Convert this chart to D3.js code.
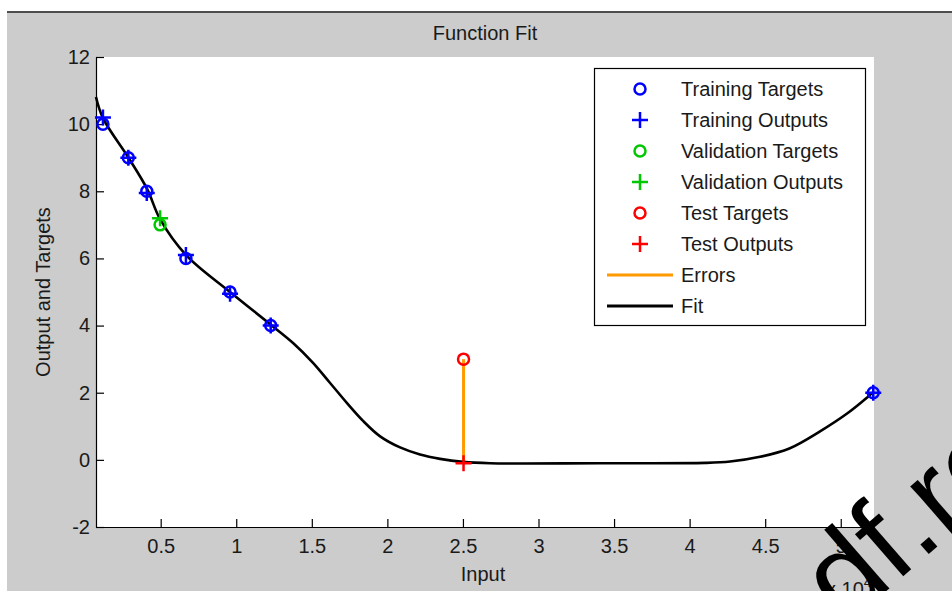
<!DOCTYPE html>
<html>
<head>
<meta charset="utf-8">
<script src="https://cdn.jsdelivr.net/npm/d3@7/dist/d3.min.js"></script>
<style>
  body { margin: 0; background: #fff; }
  text { font-family: "Liberation Sans", Arial, sans-serif; fill: #1a1a1a; }
</style>
</head>
<body>
<div id="chart"></div>
<script>
// values (x in units of 10^4)
var fitX = [0.072, 0.118, 0.284, 0.410, 0.496, 0.668, 0.959, 1.230, 1.376, 1.508, 1.621, 1.733, 1.839,
            1.952, 2.084, 2.216, 2.349, 2.501, 2.680, 3.400, 4.103, 4.268, 4.466, 4.660, 4.863, 5.042, 5.175, 5.215];
var fitY = [10.81, 10.18, 9.02, 8.07, 7.17, 6.10, 5.00, 4.02, 3.48, 2.89, 2.29, 1.69, 1.16,
            0.70, 0.37, 0.16, 0.03, -0.06, -0.10, -0.10, -0.09, -0.05, 0.09, 0.34, 0.85, 1.38, 1.86, 2.02];

var trainX       = [0.118, 0.286, 0.408, 0.667, 0.959, 1.228, 5.215];
var trainTargets = [10, 9, 8, 6, 5, 4, 2];
var trainOutputs = [10.2, 9.0, 7.95, 6.1, 4.95, 4.0, 2.0];

var valX       = [0.496];
var valTargets = [7.0];
var valOutputs = [7.2];

var testX       = [2.504];
var testTargets = [3.0];
var testOutputs = [-0.1];

var xTicks = [0.5, 1, 1.5, 2, 2.5, 3, 3.5, 4, 4.5, 5];
var yTicks = [-2, 0, 2, 4, 6, 8, 10, 12];

var legendLabels = ['Training Targets', 'Training Outputs', 'Validation Targets', 'Validation Outputs',
                    'Test Targets', 'Test Outputs', 'Errors', 'Fit'];
var legendKinds  = ['circle', 'plus', 'circle', 'plus', 'circle', 'plus', 'line', 'line'];
var legendColors = ['#0000ff', '#0000ff', '#00c800', '#00c800', '#ff0000', '#ff0000', '#ff9a00', '#000000'];

var W = 952, H = 591;
var pLeft = 96, pTop = 57, pRight = 874, pBottom = 527;

var svg = d3.select('#chart').append('svg')
  .attr('width', W)
  .attr('height', H);

// figure background
svg.append('rect').attr('x', 7).attr('y', 13).attr('width', W - 7).attr('height', H - 13).attr('fill', '#cccccc');
svg.append('line').attr('x1', 7).attr('x2', W).attr('y1', 12).attr('y2', 12)
  .attr('stroke', '#4d4d4d').attr('stroke-width', 2);

var x = d3.scaleLinear().domain([0.072, 5.22]).range([pLeft, pRight]);
var y = d3.scaleLinear().domain([-2, 12]).range([pBottom, pTop]);

svg.append('rect')
  .attr('x', pLeft).attr('y', pTop)
  .attr('width', pRight - pLeft).attr('height', pBottom - pTop)
  .attr('fill', '#fff');

var plain = function(d){ return String(d); };

var xAxis = svg.append('g')
  .attr('transform', 'translate(0,' + pBottom + ')')
  .call(d3.axisBottom(x).tickValues(xTicks).tickFormat(plain).tickSizeInner(-8).tickSizeOuter(0).tickPadding(12));

var yAxis = svg.append('g')
  .attr('transform', 'translate(' + pLeft + ',0)')
  .call(d3.axisLeft(y).tickValues(yTicks).tickFormat(plain).tickSizeInner(-8).tickSizeOuter(0).tickPadding(6));

[xAxis, yAxis].forEach(function(a){
  a.selectAll('path, line').attr('stroke', '#000').attr('stroke-width', 1.2);
  a.selectAll('text').style('font-size', '20px').attr('fill', '#1a1a1a');
});

// errors
svg.append('g').selectAll('line')
  .data(testX)
  .enter().append('line')
    .attr('x1', function(d){ return x(d); })
    .attr('x2', function(d){ return x(d); })
    .attr('y1', function(d, i){ return y(testOutputs[i]); })
    .attr('y2', function(d, i){ return y(testTargets[i]); })
    .attr('stroke', '#ff9a00')
    .attr('stroke-width', 3);

// fit
var line = d3.line()
  .x(function(d){ return x(d[0]); })
  .y(function(d){ return y(d[1]); })
  .curve(d3.curveCatmullRom.alpha(0.5));

svg.append('path')
  .datum(d3.zip(fitX, fitY))
  .attr('d', line)
  .attr('fill', 'none')
  .attr('stroke', '#000')
  .attr('stroke-width', 2.6);

function circles(xs, ys, color){
  svg.append('g').selectAll('circle')
    .data(d3.zip(xs, ys))
    .enter().append('circle')
      .attr('cx', function(d){ return x(d[0]); })
      .attr('cy', function(d){ return y(d[1]); })
      .attr('r', 5.5)
      .attr('fill', 'none')
      .attr('stroke', color)
      .attr('stroke-width', 2.5);
}

function plusPath(cx, cy, s){
  return 'M' + (cx - s) + ',' + cy + 'H' + (cx + s) + 'M' + cx + ',' + (cy - s) + 'V' + (cy + s);
}

function pluses(xs, ys, color){
  svg.append('g').selectAll('path')
    .data(d3.zip(xs, ys))
    .enter().append('path')
      .attr('d', function(d){ return plusPath(x(d[0]), y(d[1]), 8); })
      .attr('fill', 'none')
      .attr('stroke', color)
      .attr('stroke-width', 2.5);
}

circles(trainX, trainTargets, legendColors[0]);
pluses(trainX, trainOutputs, legendColors[1]);
circles(valX, valTargets, legendColors[2]);
pluses(valX, valOutputs, legendColors[3]);
circles(testX, testTargets, legendColors[4]);
pluses(testX, testOutputs, legendColors[5]);

// legend
var lg = svg.append('g');
lg.append('rect')
  .attr('x', 594.5).attr('y', 68.5)
  .attr('width', 271).attr('height', 257)
  .attr('fill', '#fff').attr('stroke', '#000').attr('stroke-width', 1.2);

var rows = lg.selectAll('g.row')
  .data(legendLabels)
  .enter().append('g')
    .attr('class', 'row')
    .attr('transform', function(d, i){ return 'translate(0,' + (89 + i * 31) + ')'; });

rows.each(function(d, i){
  var g = d3.select(this);
  if (legendKinds[i] == 'circle') {
    g.append('circle').attr('cx', 640).attr('cy', 0).attr('r', 5.5)
      .attr('fill', 'none').attr('stroke', legendColors[i]).attr('stroke-width', 2.5);
  } else if (legendKinds[i] == 'plus') {
    g.append('path').attr('d', plusPath(640, 0, 8))
      .attr('stroke', legendColors[i]).attr('stroke-width', 2.5);
  } else {
    g.append('line').attr('x1', 607).attr('x2', 673).attr('y1', 0).attr('y2', 0)
      .attr('stroke', legendColors[i]).attr('stroke-width', 3);
  }
  g.append('text')
    .attr('x', 681).attr('y', 0).attr('dy', '0.35em')
    .style('font-size', '20px')
    .text(d);
});

// titles
svg.append('text')
  .attr('x', (pLeft + pRight) / 2).attr('y', 40)
  .attr('text-anchor', 'middle')
  .style('font-size', '20px')
  .text('Function Fit');

svg.append('text')
  .attr('x', (pLeft + pRight) / 2 - 2).attr('y', 581)
  .attr('text-anchor', 'middle')
  .style('font-size', '20px')
  .text('Input');

svg.append('text')
  .attr('transform', 'translate(50,' + ((pTop + pBottom) / 2) + ') rotate(-90)')
  .attr('text-anchor', 'middle')
  .style('font-size', '20px')
  .text('Output and Targets');

var expo = svg.append('text')
  .attr('x', 826).attr('y', 596)
  .style('font-size', '20px');
expo.append('tspan').text('x 10');
expo.append('tspan').attr('dy', -9).style('font-size', '14px').text('4');

// watermark over the corner
svg.append('text')
  .attr('transform', 'translate(845,627) rotate(-41)')
  .style('font-size', '120px')
  .style('fill', '#000')
  .text('df.re');
</script>
</body>
</html>
